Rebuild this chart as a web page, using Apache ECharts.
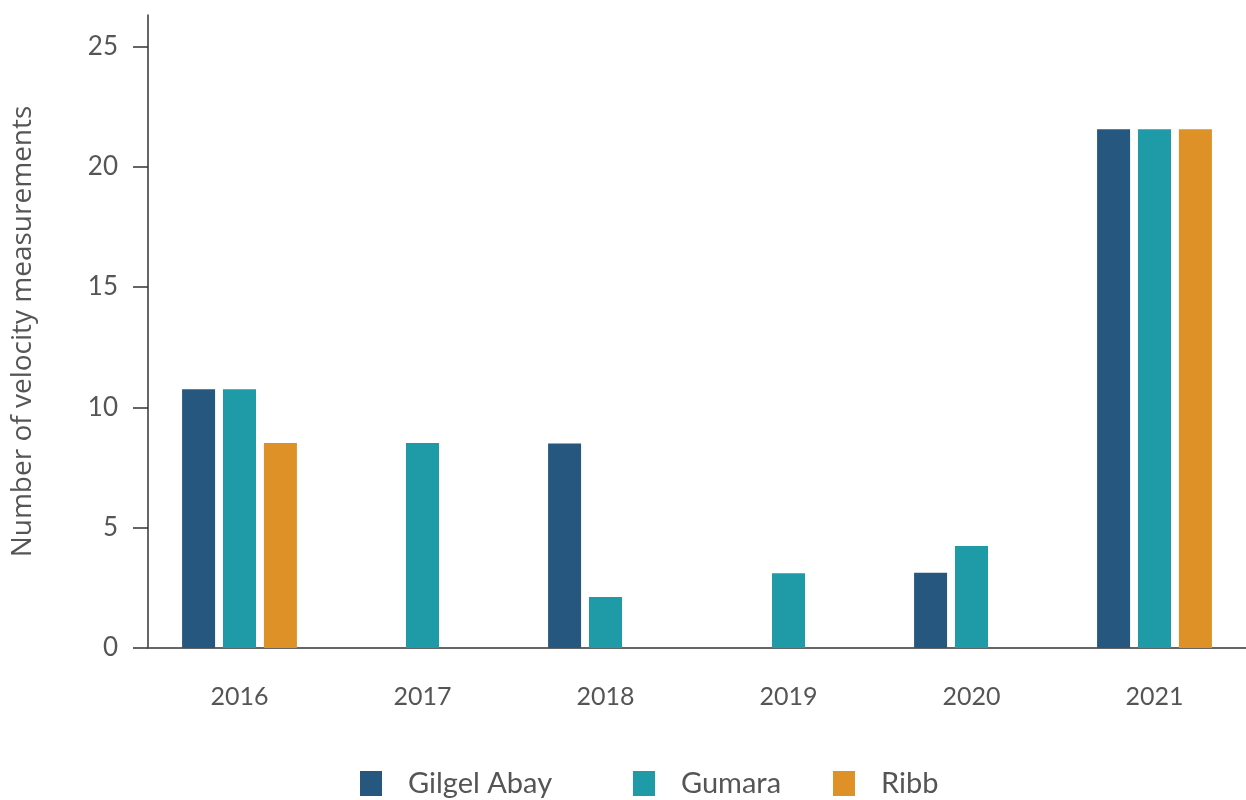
<!DOCTYPE html>
<html>
<head>
<meta charset="utf-8">
<script src="https://cdn.jsdelivr.net/npm/echarts@6/dist/echarts.min.js"></script>
<style>
html,body{margin:0;padding:0;background:#fff;}
#chart{width:1246px;height:800px;}
</style>
</head>
<body>
<div id="chart"></div>
<script>
const categories = ['2016', '2017', '2018', '2019', '2020', '2021'];
const seriesNames = ['Gilgel Abay', 'Gumara', 'Ribb'];
const gilgelAbay = [10.75, null, 8.5, null, 3.13, 21.55];
const gumara = [10.75, 8.52, 2.12, 3.11, 4.24, 21.55];
const ribb = [8.52, null, null, null, null, 21.55];
const yTicks = [0, 5, 10, 15, 20, 25];
const colors = ['#26577f', '#1f9ba7', '#de9126'];

const chart = echarts.init(document.getElementById('chart'));
const legendBase = {
  orient: 'horizontal',
  top: 769,
  padding: 0,
  icon: 'rect',
  itemWidth: 22,
  itemHeight: 25,
  textStyle: { fontFamily: 'Lato', fontSize: 29, color: '#555', padding: [0, 0, 0, 21] }
};
chart.setOption({
  animation: false,
  color: colors,
  grid: { left: 148, right: 0, top: 15, bottom: 152, containLabel: false },
  legend: [
    Object.assign({}, legendBase, { left: 360, data: [seriesNames[0]] }),
    Object.assign({}, legendBase, { left: 633, data: [seriesNames[1]] }),
    Object.assign({}, legendBase, { left: 833, data: [seriesNames[2]] })
  ],
  xAxis: {
    type: 'category',
    data: categories,
    axisLine: { lineStyle: { color: '#666', width: 2 } },
    axisTick: { length: 14, lineStyle: { color: '#555', width: 2 } },
    axisLabel: { fontFamily: 'Lato', fontSize: 25, color: '#555', margin: 36 },
    splitLine: { show: false }
  },
  yAxis: {
    type: 'value',
    min: 0,
    max: 26.3,
    interval: 5,
    name: 'Number of velocity measurements',
    nameLocation: 'middle',
    nameGap: 111,
    nameTextStyle: { fontFamily: 'Open Sans', fontSize: 28, color: '#555' },
    axisLine: { show: true, lineStyle: { color: '#333', width: 1.5 } },
    axisTick: { show: true, length: 15, customValues: yTicks, lineStyle: { color: '#333', width: 1.5 } },
    axisLabel: { fontFamily: 'Lato', fontSize: 26, color: '#555', margin: 30, customValues: yTicks },
    splitLine: { show: false }
  },
  series: [
    { name: seriesNames[0], type: 'bar', data: gilgelAbay, barWidth: 33, barGap: '24%' },
    { name: seriesNames[1], type: 'bar', data: gumara, barWidth: 33, barGap: '24%' },
    { name: seriesNames[2], type: 'bar', data: ribb, barWidth: 33, barGap: '24%' }
  ]
});
</script>
</body>
</html>
